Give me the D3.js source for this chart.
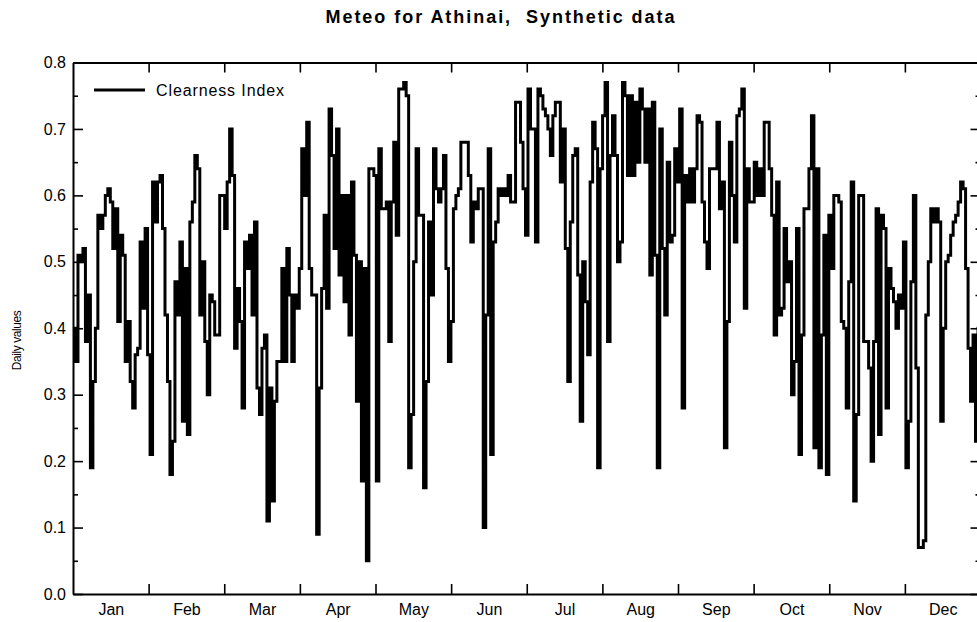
<!DOCTYPE html>
<html>
<head>
<meta charset="utf-8">
<script src="https://cdn.jsdelivr.net/npm/d3@7"></script>
<style>
  body { margin: 0; background: #fff; }
  svg { display: block; font-family: "Liberation Sans", Arial, sans-serif; }
  .keep-space { white-space: pre; }
</style>
</head>
<body>
<script>
// Month names shown under the x axis
const months = ["Jan", "Feb", "Mar", "Apr", "May", "Jun", "Jul", "Aug", "Sep", "Oct", "Nov", "Dec"];
// Labelled y ticks and minor y ticks
const yTicks = [0.0, 0.1, 0.2, 0.3, 0.4, 0.5, 0.6, 0.7, 0.8];
const yMinorTicks = [0.05, 0.15, 0.25, 0.35, 0.45, 0.55, 0.65, 0.75];
const seriesName = "Clearness Index";

// Daily clearness index, day 1 .. day 365
const clearness = [
  // Jan - Feb
  0.40,0.35,0.51,0.50,0.52,0.38,0.45,0.19,0.32,0.40,
  0.57,0.55,0.57,0.60,0.61,0.59,0.52,0.58,0.41,0.54,
  0.51,0.35,0.41,0.32,0.28,0.36,0.37,0.53,0.43,0.55,
  0.36,0.21,0.62,0.56,0.62,0.63,0.55,0.42,0.32,0.18,
  0.23,0.47,0.42,0.53,0.26,0.49,0.24,0.56,0.59,0.66,
  0.64,0.42,0.50,0.38,0.30,0.45,0.44,0.39,0.39,0.60,
  // Mar - Apr
  0.60,0.55,0.62,0.70,0.63,0.37,0.46,0.41,0.28,0.53,
  0.49,0.54,0.42,0.56,0.31,0.27,0.37,0.39,0.11,0.31,
  0.14,0.29,0.35,0.35,0.49,0.35,0.52,0.45,0.35,0.45,
  0.43,0.49,0.67,0.60,0.71,0.49,0.45,0.45,0.09,0.31,
  0.46,0.57,0.43,0.73,0.66,0.52,0.70,0.48,0.60,0.44,
  0.60,0.39,0.62,0.51,0.29,0.50,0.17,0.49,0.05,0.64,
  0.64,0.63,
  // May - Jun
  0.17,0.67,0.58,0.58,0.59,0.38,0.59,0.68,
  0.54,0.76,0.76,0.77,0.75,0.19,0.27,0.50,0.67,0.57,
  0.57,0.16,0.32,0.56,0.45,0.67,0.61,0.59,0.61,0.66,
  0.49,0.35,0.41,0.58,0.60,0.61,0.68,0.68,0.68,0.63,
  0.53,0.59,0.58,0.61,0.61,0.10,0.42,0.67,0.21,0.53,
  0.56,0.61,0.60,0.61,0.60,0.63,0.59,0.59,0.74,0.74,
  0.68,0.61,0.54,
  // Jul - Aug
  0.76,0.70,0.70,0.53,0.76,0.75,0.73,0.72,0.70,0.66,
  0.72,0.74,0.74,0.62,0.70,0.52,0.32,0.56,0.66,0.67,
  0.48,0.26,0.50,0.44,0.36,0.62,0.71,0.67,0.19,0.64,
  0.72,0.77,0.38,0.66,0.72,0.66,0.50,0.53,0.77,0.75,
  0.63,0.75,0.63,0.74,0.65,0.76,0.73,0.65,0.73,0.48,
  0.74,0.51,0.19,0.70,0.52,0.42,0.65,0.53,0.54,0.67,
  0.62,
  // Sep - Oct
  0.73,0.28,0.63,0.59,0.64,0.59,0.64,0.72,0.71,0.59,
  0.53,0.49,0.64,0.64,0.64,0.71,0.58,0.62,0.22,0.41,
  0.68,0.60,0.53,0.72,0.73,0.76,0.43,0.64,0.59,0.59,
  0.65,0.60,0.64,0.60,0.71,0.71,0.64,0.57,0.39,0.62,
  0.42,0.43,0.55,0.47,0.50,0.30,0.35,0.55,0.21,0.39,
  0.58,0.58,0.64,0.72,0.22,0.64,0.19,0.39,0.54,0.18,
  0.57,
  // Nov - Dec
  0.49,0.60,0.60,0.59,0.41,0.40,0.28,0.47,0.62,0.14,
  0.27,0.60,0.60,0.38,0.38,0.34,0.20,0.38,0.58,0.24,
  0.57,0.55,0.28,0.49,0.46,0.44,0.40,0.45,0.43,0.53,
  0.19,0.26,0.47,0.60,0.34,0.07,0.07,0.08,0.42,0.50,
  0.58,0.56,0.58,0.56,0.26,0.40,0.50,0.51,0.54,0.56,
  0.57,0.59,0.62,0.61,0.49,0.37,0.29,0.39,0.23,0.40
];

const W = 977, H = 622;
const plot = { left: 73, right: 980.5, top: 62.5, bottom: 594 };
const nDays = clearness.length;

const svg = d3.select("body").append("svg")
  .attr("width", W).attr("height", H);

const x = d3.scaleLinear().domain([0, nDays]).range([plot.left, plot.right]);
const y = d3.scaleLinear().domain([0, 0.8]).range([plot.bottom, plot.top]);

// Month boundaries (equal twelfths of the year) and month centres
const monthEdges = d3.range(1, 12).map(k => nDays * k / 12);
const monthMids = months.map((m, k) => nDays * (k + 0.5) / 12);

// Title and y-axis caption
svg.append("text")
  .attr("class", "keep-space")
  .attr("x", 500).attr("y", 23)
  .attr("text-anchor", "middle")
  .attr("font-size", 18).attr("font-weight", "bold")
  .attr("textLength", 349).attr("lengthAdjust", "spacing")
  .text("Meteo for Athinai,  Synthetic data");

svg.append("text")
  .attr("transform", `translate(21,${(plot.top + plot.bottom) / 2 + 12}) rotate(-90)`)
  .attr("text-anchor", "middle")
  .attr("font-size", 12)
  .attr("textLength", 60).attr("lengthAdjust", "spacing")
  .text("Daily values");

// Daily series as a step line
const pts = clearness.map((v, i) => [i, v]);
pts.push([nDays, clearness[nDays - 1]]);

svg.append("defs").append("clipPath").attr("id", "plotclip")
  .append("rect")
  .attr("x", plot.left).attr("y", plot.top)
  .attr("width", plot.right - plot.left).attr("height", plot.bottom - plot.top);

svg.append("path")
  .datum(pts)
  .attr("clip-path", "url(#plotclip)")
  .attr("fill", "none")
  .attr("stroke", "#000")
  .attr("stroke-width", 3)
  .attr("stroke-linejoin", "miter")
  .attr("d", d3.line().x(d => x(d[0])).y(d => y(d[1])).curve(d3.curveStepAfter));

// Axes with inward-pointing ticks
function styleAxis(g) {
  g.select(".domain").attr("stroke", "#000").attr("stroke-width", 2);
  g.selectAll(".tick line").attr("stroke", "#000").attr("stroke-width", 1.6);
  g.selectAll(".tick text").attr("fill", "#000");
}

svg.append("g")
  .attr("transform", `translate(${plot.left},0)`)
  .call(d3.axisLeft(y).tickValues(yTicks).tickFormat(d3.format(".1f"))
    .tickSizeInner(-10).tickSizeOuter(0).tickPadding(7))
  .call(g => g.selectAll(".tick text").attr("font-size", 16).attr("font-family", "Liberation Sans, Arial, sans-serif"))
  .call(styleAxis);

svg.append("g")
  .attr("transform", `translate(${plot.left},0)`)
  .call(d3.axisLeft(y).tickValues(yMinorTicks).tickFormat("").tickSizeInner(-5).tickSizeOuter(0))
  .call(g => g.select(".domain").remove())
  .call(styleAxis);

svg.append("g")
  .attr("transform", `translate(${plot.right},0)`)
  .call(d3.axisRight(y).tickValues(yTicks).tickFormat("").tickSizeInner(-10).tickSizeOuter(0))
  .call(styleAxis);

svg.append("g")
  .attr("transform", `translate(${plot.right},0)`)
  .call(d3.axisRight(y).tickValues(yMinorTicks).tickFormat("").tickSizeInner(-5).tickSizeOuter(0))
  .call(g => g.select(".domain").remove())
  .call(styleAxis);

svg.append("g")
  .attr("transform", `translate(0,${plot.top})`)
  .call(d3.axisTop(x).tickValues(monthEdges).tickFormat("").tickSizeInner(-10).tickSizeOuter(0))
  .call(styleAxis);

svg.append("g")
  .attr("transform", `translate(0,${plot.bottom})`)
  .call(d3.axisBottom(x).tickValues(monthEdges).tickFormat("").tickSizeInner(-10).tickSizeOuter(0))
  .call(styleAxis);

svg.append("g")
  .attr("transform", `translate(0,${plot.bottom})`)
  .call(d3.axisBottom(x).tickValues(monthMids).tickFormat((d, i) => months[i])
    .tickSize(0).tickPadding(10))
  .call(g => g.select(".domain").remove())
  .call(g => g.selectAll(".tick text").attr("font-size", 16).attr("font-family", "Liberation Sans, Arial, sans-serif"))
  .call(styleAxis);

// Legend
const legend = svg.append("g");
legend.append("line")
  .attr("x1", 94).attr("x2", 145).attr("y1", 90).attr("y2", 90)
  .attr("stroke", "#000").attr("stroke-width", 3);
legend.append("text")
  .attr("x", 156).attr("y", 96)
  .attr("font-size", 16)
  .attr("textLength", 128).attr("lengthAdjust", "spacing")
  .text(seriesName);
</script>
</body>
</html>
